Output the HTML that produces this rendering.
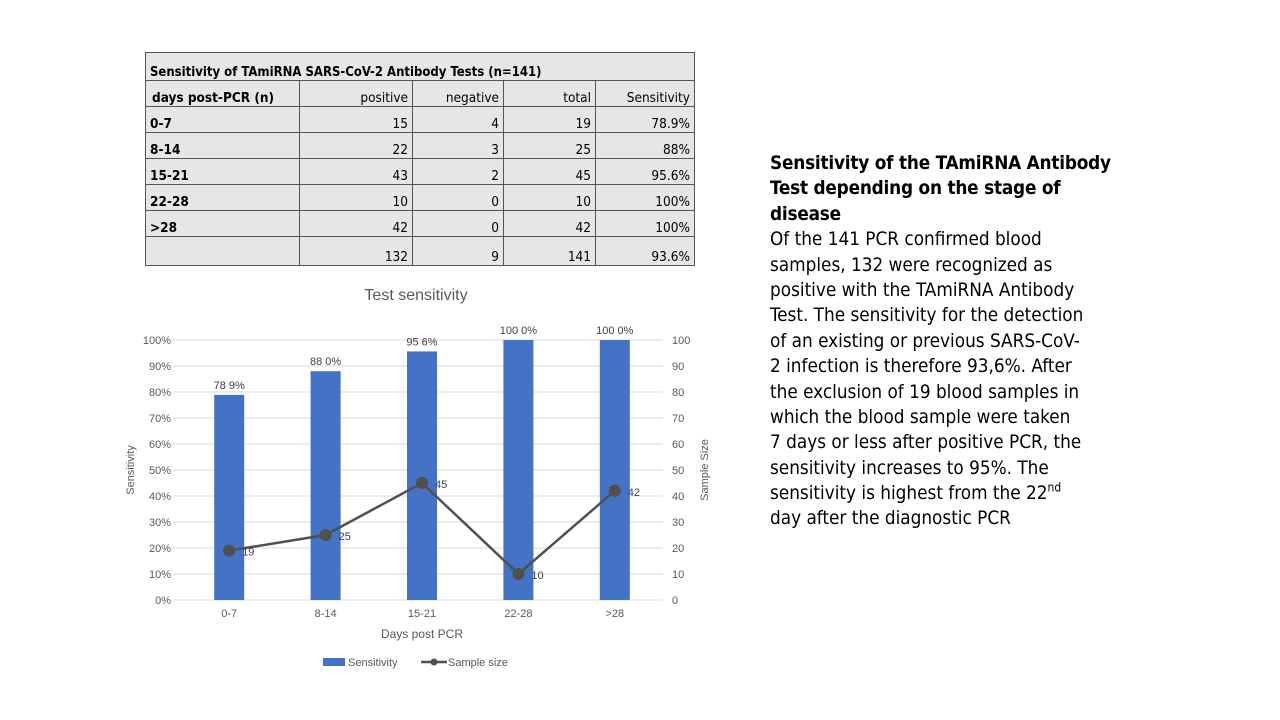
<!DOCTYPE html>
<html><head><meta charset="utf-8"><style>
body{margin:0;width:1280px;height:720px;background:#fff;position:relative;overflow:hidden;font-family:"Liberation Sans",sans-serif}
table{position:absolute;left:145px;top:52px;border-collapse:collapse;background:#e7e5e5;font-family:"DejaVu Sans Condensed","Liberation Sans",sans-serif;font-size:13.5px;color:#000}
td{border:1px solid #555;height:25px;padding:0 4px 0 4px;text-align:right;vertical-align:bottom}
td.l{text-align:left;font-weight:bold}
#txt{position:absolute;left:770px;top:151px;white-space:nowrap;font-family:"DejaVu Sans Condensed","Liberation Sans",sans-serif;font-size:18.8px;color:#000}
#txt div{height:25.4px;line-height:25.4px}
#txt b{letter-spacing:-0.2px}
</style></head><body>
<table>
<tr><td class="l" colspan="5" style="height:27px;font-size:13px">Sensitivity of TAmiRNA SARS-CoV-2 Antibody Tests (n=141)</td></tr>
<tr><td class="l" style="width:143px;padding-left:6px">days post-PCR (n)</td><td style="width:104px">positive</td><td style="width:82px">negative</td><td style="width:83px">total</td><td style="width:90px">Sensitivity</td></tr>
<tr><td class="l">0-7</td><td>15</td><td>4</td><td>19</td><td>78.9%</td></tr>
<tr><td class="l">8-14</td><td>22</td><td>3</td><td>25</td><td>88%</td></tr>
<tr><td class="l">15-21</td><td>43</td><td>2</td><td>45</td><td>95.6%</td></tr>
<tr><td class="l">22-28</td><td>10</td><td>0</td><td>10</td><td>100%</td></tr>
<tr><td class="l">&gt;28</td><td>42</td><td>0</td><td>42</td><td>100%</td></tr>
<tr><td class="l" style="height:28px"></td><td>132</td><td>9</td><td>141</td><td>93.6%</td></tr>
</table>
<div id="txt">
<div><b>Sensitivity of the TAmiRNA Antibody</b></div>
<div><b>Test depending on the stage of</b></div>
<div><b>disease</b></div>
<div>Of the 141 PCR confirmed blood</div>
<div>samples, 132 were recognized as</div>
<div>positive with the TAmiRNA Antibody</div>
<div>Test. The sensitivity for the detection</div>
<div>of an existing or previous SARS-CoV-</div>
<div>2 infection is therefore 93,6%. After</div>
<div>the exclusion of 19 blood samples in</div>
<div>which the blood sample were taken</div>
<div>7 days or less after positive PCR, the</div>
<div>sensitivity increases to 95%. The</div>
<div>sensitivity is highest from the 22<sup style="font-size:12px;line-height:0">nd</sup></div>
<div>day after the diagnostic PCR</div>
</div>
<svg id="chart" width="1280" height="720" style="position:absolute;left:0;top:0" font-family="Liberation Sans, sans-serif"></svg>
<script>
const categories=["0-7","8-14","15-21","22-28",">28"];
const sensitivity=[78.9,88.0,95.6,100.0,100.0];
const sampleSize=[19,25,45,10,42];
const leftTicks=[0,10,20,30,40,50,60,70,80,90,100];
const rightTicks=[0,10,20,30,40,50,60,70,80,90,100];
const svg=document.getElementById('chart');
const NS='http://www.w3.org/2000/svg';
const L=181,R=663,T=340,B=600;
const bw=(R-L)/categories.length;
const xc=i=>L+bw*(i+0.5);
const yL=v=>B-(v/100)*(B-T);
const yR=v=>B-(v/100)*(B-T);
function mk(tag,a,txt){const e=document.createElementNS(NS,tag);for(const k in a)e.setAttribute(k,a[k]);if(txt!==undefined)e.textContent=txt;svg.appendChild(e);return e;}
let e=mk('text',{x:416,y:300,'text-anchor':'middle','font-size':16,fill:'#595959'},'Test sensitivity');

leftTicks.forEach(v=>{
 let g=mk('line',{x1:L-8,x2:R,y1:yL(v),y2:yL(v),stroke:'#d9d9d9','stroke-width':1});
 
 let t=mk('text',{x:171,y:yL(v)+4,'text-anchor':'end','font-size':11,fill:'#595959'},v+'%');
 
});
rightTicks.forEach(v=>{
 let t=mk('text',{x:672,y:yR(v)+4,'text-anchor':'start','font-size':11,fill:'#595959'},String(v));
 
});
categories.forEach((c,i)=>{
 let b=mk('rect',{x:xc(i)-15,y:yL(sensitivity[i]),width:30,height:B-yL(sensitivity[i]),fill:'#4472c4'});
 
 let bl=mk('text',{x:xc(i),y:yL(sensitivity[i])-6,'text-anchor':'middle','font-size':11,fill:'#404040'},sensitivity[i].toFixed(1).replace('.',' ')+'%');
 
 let t=mk('text',{x:xc(i),y:617,'text-anchor':'middle','font-size':11,fill:'#595959'},c);
 
});
let pts=sampleSize.map((v,i)=>xc(i)+','+yR(v)).join(' ');
let pl=mk('polyline',{points:pts,fill:'none',stroke:'#505050','stroke-width':2.5});

sampleSize.forEach((v,i)=>{
 let c=mk('circle',{cx:xc(i),cy:yR(v),r:6,fill:'#505050'});
 
 let t=mk('text',{x:xc(i)+13,y:yR(v)+5,'font-size':11,fill:'#404040'},String(v));
 
});
e=mk('text',{x:422,y:638,'text-anchor':'middle','font-size':12,fill:'#595959'},'Days post PCR');

e=mk('text',{x:134,y:470,'text-anchor':'middle','font-size':11,fill:'#595959',transform:'rotate(-90 134 470)'},'Sensitivity');

e=mk('text',{x:708,y:470,'text-anchor':'middle','font-size':11,fill:'#595959',transform:'rotate(-90 708 470)'},'Sample Size');

e=mk('rect',{x:323,y:658,width:22,height:8,fill:'#4472c4'});

e=mk('text',{x:348,y:666,'font-size':11,fill:'#595959'},'Sensitivity');

e=mk('line',{x1:421,x2:447,y1:662,y2:662,stroke:'#505050','stroke-width':2.5});

e=mk('circle',{cx:434,cy:662,r:3.5,fill:'#505050'});

e=mk('text',{x:448,y:666,'font-size':11,fill:'#595959'},'Sample size');

</script>
</body></html>
